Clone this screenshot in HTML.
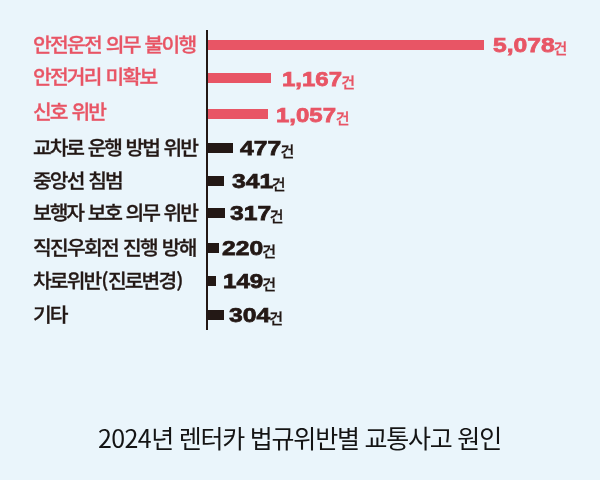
<!DOCTYPE html>
<html lang="ko">
<head>
<meta charset="utf-8">
<title>2024년 렌터카 법규위반별 교통사고 원인</title>
<style>
html,body{margin:0;padding:0;}
body{width:600px;height:480px;background:#eaf5fb;position:relative;overflow:hidden;
  font-family:"Liberation Sans","Noto Sans CJK KR",sans-serif;}
.axis{position:absolute;left:206.2px;top:30px;width:1.8px;height:299.5px;background:#231815;}
.bar{position:absolute;left:208px;height:9.5px;}
.red{background:#e85565;color:#e85565;}
.blk{background:#231815;color:#231815;}
.lbl{position:absolute;left:33px;font-family:"Noto Sans CJK KR","Liberation Sans",sans-serif;
  font-weight:500;font-size:19.3px;line-height:24px;height:24px;white-space:nowrap;background:none;
  transform-origin:0 50%;transform:scaleX(1.055);letter-spacing:-1.8px;word-spacing:0.9px;-webkit-text-stroke:0.3px currentColor;}
.val{position:absolute;white-space:nowrap;background:none;height:24px;line-height:24px;}
.num{display:inline-block;font-family:"Liberation Sans",sans-serif;font-weight:bold;font-size:21px;
  transform-origin:0 50%;transform:scaleX(1.175);-webkit-text-stroke:0.75px currentColor;}
.gun{position:absolute;font-family:"Noto Sans CJK KR",sans-serif;font-weight:500;font-size:15px;top:2.6px;-webkit-text-stroke:0.3px currentColor;}
.cap{position:absolute;left:-0.5px;width:600px;top:418.7px;height:36px;line-height:36px;text-align:center;
  font-family:"Noto Sans CJK KR","Liberation Sans",sans-serif;font-weight:400;font-size:25px;color:#141414;white-space:nowrap;letter-spacing:-1.2px;word-spacing:-0.1px;}
.cap .d{letter-spacing:-0.6px;}
</style>
</head>
<body>
<div class="axis"></div>

<div class="lbl red" style="top:31.6px;letter-spacing:-1.66px">안전운전 의무 불이행</div>
<div class="lbl red" style="top:64.4px;letter-spacing:-1.7px">안전거리 미확보</div>
<div class="lbl red" style="top:98.5px">신호 위반</div>
<div class="lbl blk" style="top:135px;letter-spacing:-1.93px">교차로 운행 방법 위반</div>
<div class="lbl blk" style="top:168px">중앙선 침범</div>
<div class="lbl blk" style="top:200px;letter-spacing:-1.93px">보행자 보호 의무 위반</div>
<div class="lbl blk" style="top:235px;letter-spacing:-1.63px">직진우회전 진행 방해</div>
<div class="lbl blk" style="top:268px">차로위반<span style="margin:0 1.2px 0 1px">(</span>진로변경<span style="margin-left:1px">)</span></div>
<div class="lbl blk" style="top:302px">기타</div>

<div class="bar red" style="top:40px;width:276px"></div>
<div class="bar red" style="top:73px;width:63.3px"></div>
<div class="bar red" style="top:109.3px;width:60px"></div>
<div class="bar blk" style="top:143px;width:25px"></div>
<div class="bar blk" style="top:176px;width:16.2px"></div>
<div class="bar blk" style="top:208px;width:16.5px"></div>
<div class="bar blk" style="top:243px;width:10.5px"></div>
<div class="bar blk" style="top:276px;width:7.8px"></div>
<div class="bar blk" style="top:310px;width:15.8px"></div>

<div class="val red" style="left:493px;top:33px"><span class="num">5,078</span><span class="gun" style="left:60.5px">건</span></div>
<div class="val red" style="left:282.3px;top:67px"><span class="num" style="transform:scaleX(1.143)">1,167</span><span class="gun" style="left:59px">건</span></div>
<div class="val red" style="left:276.3px;top:103px"><span class="num" style="transform:scaleX(1.143)">1,057</span><span class="gun" style="left:59.5px">건</span></div>
<div class="val blk" style="left:240.2px;top:136px"><span class="num">477</span><span class="gun" style="left:40.3px">건</span></div>
<div class="val blk" style="left:231.5px;top:169px"><span class="num">341</span><span class="gun" style="left:40.3px">건</span></div>
<div class="val blk" style="left:229.5px;top:201px"><span class="num">317</span><span class="gun" style="left:40.3px">건</span></div>
<div class="val blk" style="left:222px;top:236px"><span class="num">220</span><span class="gun" style="left:40.3px">건</span></div>
<div class="val blk" style="left:223px;top:269px"><span class="num" style="transform:scaleX(1.15)">149</span><span class="gun" style="left:39.3px">건</span></div>
<div class="val blk" style="left:229px;top:303px"><span class="num">304</span><span class="gun" style="left:40.3px">건</span></div>

<div class="cap"><span class="d">2024</span>년 렌터카 법규위반별 교통사고 원인</div>
</body>
</html>
